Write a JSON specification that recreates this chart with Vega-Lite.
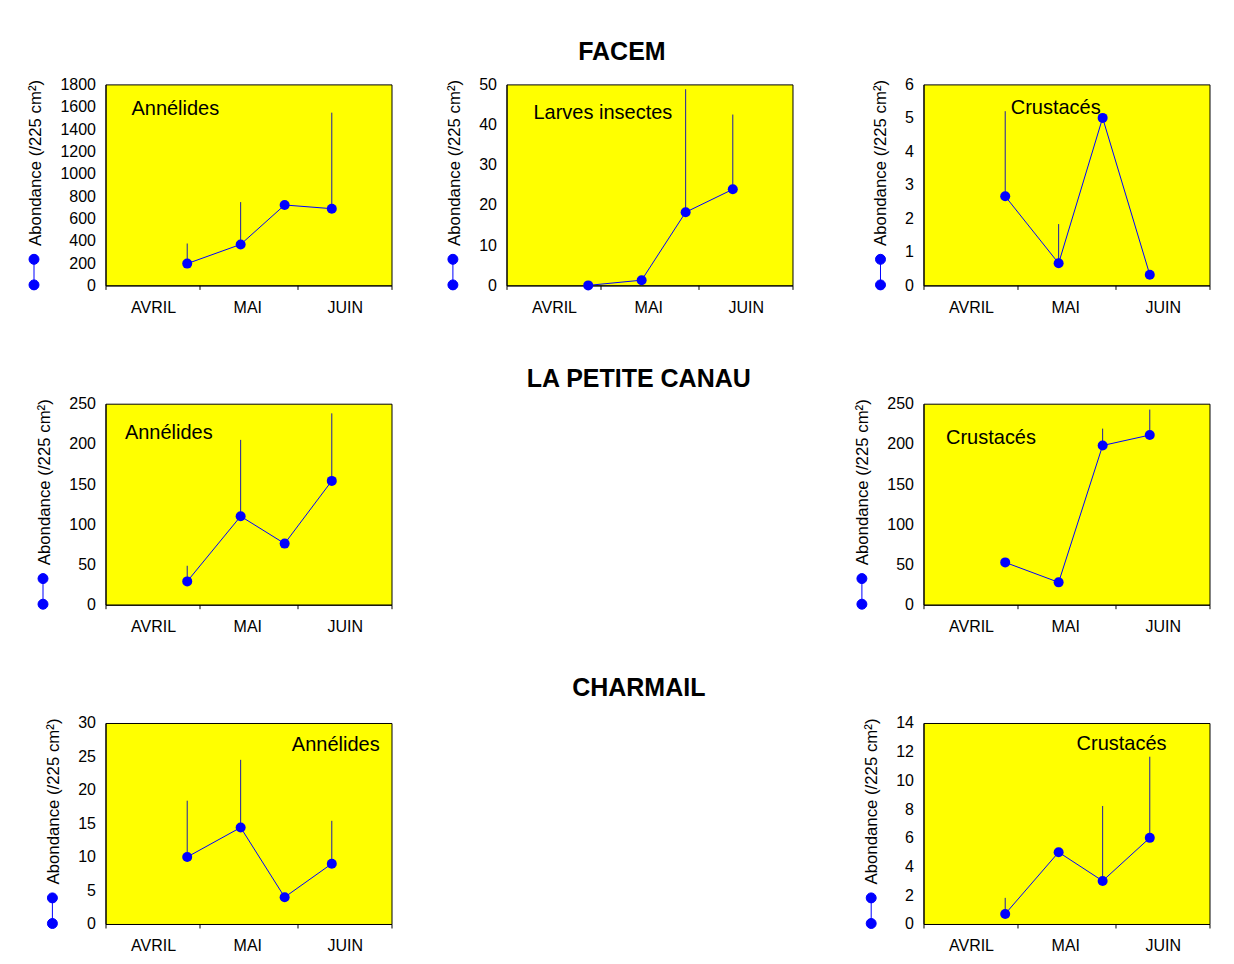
{
  "$schema": "https://vega.github.io/schema/vega-lite/v6.json",
  "padding": {"left": 19.5, "top": 39.4, "right": 5, "bottom": 5},
  "background": "white",
  "config": {
    "font": "Liberation Sans",
    "view": {"fill": "#ffff00", "stroke": "#000000", "strokeWidth": 1},
    "axis": {"labelFont": "Liberation Sans", "labelFontSize": 16, "labelColor": "#000000", "titleFont": "Liberation Sans", "titleFontSize": 16.8, "titleFontWeight": "normal", "titleColor": "#000000", "domainColor": "#000000", "tickColor": "#000000", "grid": false, "labelOverlap": false},
    "axisY": {"ticks": false, "tickSize": 0, "labelPadding": 10, "titleAnchor": "end", "titleY": -5, "titlePadding": 15, "format": "d", "labelOverlap": false},
    "title": {"font": "Liberation Sans", "fontSize": 25, "fontWeight": "bold", "color": "#000000", "baseline": "alphabetic", "frame": "group", "anchor": "middle"}
  },
  "datasets": {
    "facem_ann": [
      {"site": "FACEM", "groupe": "Annélides", "date": "2005/04/27", "abondance": 195, "sup": 375},
      {"site": "FACEM", "groupe": "Annélides", "date": "2005/05/14", "abondance": 367, "sup": 746},
      {"site": "FACEM", "groupe": "Annélides", "date": "2005/05/28", "abondance": 720, "sup": null},
      {"site": "FACEM", "groupe": "Annélides", "date": "2005/06/12", "abondance": 687, "sup": 1547}
    ],
    "facem_lar": [
      {"site": "FACEM", "groupe": "Larves insectes", "date": "2005/04/27", "abondance": 0, "sup": null},
      {"site": "FACEM", "groupe": "Larves insectes", "date": "2005/05/14", "abondance": 1.3, "sup": null},
      {"site": "FACEM", "groupe": "Larves insectes", "date": "2005/05/28", "abondance": 18.2, "sup": 48.8},
      {"site": "FACEM", "groupe": "Larves insectes", "date": "2005/06/12", "abondance": 23.9, "sup": 42.5}
    ],
    "facem_cru": [
      {"site": "FACEM", "groupe": "Crustacés", "date": "2005/04/27", "abondance": 2.66, "sup": 5.2},
      {"site": "FACEM", "groupe": "Crustacés", "date": "2005/05/14", "abondance": 0.66, "sup": 1.83},
      {"site": "FACEM", "groupe": "Crustacés", "date": "2005/05/28", "abondance": 5.0, "sup": null},
      {"site": "FACEM", "groupe": "Crustacés", "date": "2005/06/12", "abondance": 0.32, "sup": null}
    ],
    "lpc_ann": [
      {"site": "LA PETITE CANAU", "groupe": "Annélides", "date": "2005/04/27", "abondance": 29, "sup": 48.4},
      {"site": "LA PETITE CANAU", "groupe": "Annélides", "date": "2005/05/14", "abondance": 110, "sup": 205},
      {"site": "LA PETITE CANAU", "groupe": "Annélides", "date": "2005/05/28", "abondance": 76, "sup": null},
      {"site": "LA PETITE CANAU", "groupe": "Annélides", "date": "2005/06/12", "abondance": 154, "sup": 238}
    ],
    "lpc_cru": [
      {"site": "LA PETITE CANAU", "groupe": "Crustacés", "date": "2005/04/27", "abondance": 52.6, "sup": null},
      {"site": "LA PETITE CANAU", "groupe": "Crustacés", "date": "2005/05/14", "abondance": 27.8, "sup": null},
      {"site": "LA PETITE CANAU", "groupe": "Crustacés", "date": "2005/05/28", "abondance": 198, "sup": 219},
      {"site": "LA PETITE CANAU", "groupe": "Crustacés", "date": "2005/06/12", "abondance": 211, "sup": 242.7}
    ],
    "cha_ann": [
      {"site": "CHARMAIL", "groupe": "Annélides", "date": "2005/04/27", "abondance": 10, "sup": 18.4},
      {"site": "CHARMAIL", "groupe": "Annélides", "date": "2005/05/14", "abondance": 14.4, "sup": 24.5},
      {"site": "CHARMAIL", "groupe": "Annélides", "date": "2005/05/28", "abondance": 4, "sup": null},
      {"site": "CHARMAIL", "groupe": "Annélides", "date": "2005/06/12", "abondance": 9, "sup": 15.4}
    ],
    "cha_cru": [
      {"site": "CHARMAIL", "groupe": "Crustacés", "date": "2005/04/27", "abondance": 0.7, "sup": 1.82},
      {"site": "CHARMAIL", "groupe": "Crustacés", "date": "2005/05/14", "abondance": 5, "sup": null},
      {"site": "CHARMAIL", "groupe": "Crustacés", "date": "2005/05/28", "abondance": 3, "sup": 8.22},
      {"site": "CHARMAIL", "groupe": "Crustacés", "date": "2005/06/12", "abondance": 6, "sup": 11.65}
    ]
  },
  "columns": 3,
  "bounds": "flush",
  "spacing": {"row": 118.3, "column": 115},
  "resolve": {"scale": {"color": "independent"}, "legend": {"color": "independent"}},
  "concat": [
    {
      "width": 286, "height": 201,
      "layer": [
        {
          "data": {"name": "facem_ann"},
          "encoding": {
            "x": {"field": "date", "type": "temporal", "title": null, "scale": {"domain": [{"year": 2005, "month": 4, "date": 1}, {"year": 2005, "month": 7, "date": 1}], "nice": false}, "axis": {"values": [{"year": 2005, "month": 4, "date": 1}, {"year": 2005, "month": 5, "date": 1}, {"year": 2005, "month": 6, "date": 1}, {"year": 2005, "month": 7, "date": 1}], "labelExpr": "month(datum.value)==3?'AVRIL':month(datum.value)==4?'MAI':month(datum.value)==5?'JUIN':''", "labelOffset": 47.5, "labelFlush": false, "labelOverlap": false, "labelBound": false, "tickSize": 4, "labelPadding": 10}},
            "y": {"field": "abondance", "type": "quantitative", "title": "Abondance (/225 cm²)", "scale": {"domain": [0, 1800], "nice": false}, "axis": {"values": [0, 200, 400, 600, 800, 1000, 1200, 1400, 1600, 1800], "labelOverlap": false, "labelBound": false}}
          },
          "layer": [
            {"transform": [{"filter": "isValid(datum.sup)"}], "mark": {"type": "rule", "color": "#1c1ca8", "strokeWidth": 1}, "encoding": {"y2": {"field": "sup"}}},
            {"mark": {"type": "line", "color": "#0000ff", "strokeWidth": 1}, "encoding": {}},
            {"mark": {"type": "point", "filled": true, "size": 100, "opacity": 1}, "encoding": {"color": {"field": "groupe", "type": "nominal", "scale": {"range": ["#0000ff"]}, "legend": {"orient": "none", "legendX": -85, "legendY": 174.2, "title": null, "labelExpr": "''", "padding": 0, "symbolSize": 655, "symbolStrokeColor": "#0000ff", "symbolStrokeWidth": 1, "symbolType": "M-0.39,-1A0.39,0.39,0,1,0,0.39,-1A0.39,0.39,0,1,0,-0.39,-1ZM0,-1L0,1M-0.39,1A0.39,0.39,0,1,0,0.39,1A0.39,0.39,0,1,0,-0.39,1Z"}}}}
          ]
        },
        {"data": {"values": [{"label": "Annélides"}]}, "mark": {"type": "text", "align": "left", "baseline": "middle", "fontSize": 20, "color": "#000000"}, "encoding": {"text": {"field": "label"},
          "x": {"datum": {"year": 2005, "month": 4, "date": 9, "hours": 6}, "type": "temporal", "title": null, "scale": {"domain": [{"year": 2005, "month": 4, "date": 1}, {"year": 2005, "month": 7, "date": 1}], "nice": false}, "axis": {"values": [{"year": 2005, "month": 4, "date": 1}, {"year": 2005, "month": 5, "date": 1}, {"year": 2005, "month": 6, "date": 1}, {"year": 2005, "month": 7, "date": 1}], "labelExpr": "month(datum.value)==3?'AVRIL':month(datum.value)==4?'MAI':month(datum.value)==5?'JUIN':''", "labelOffset": 47.5, "labelFlush": false, "labelOverlap": false, "labelBound": false, "tickSize": 4, "labelPadding": 10}},
          "y": {"datum": 1578, "type": "quantitative", "title": "Abondance (/225 cm²)", "scale": {"domain": [0, 1800], "nice": false}, "axis": {"values": [0, 200, 400, 600, 800, 1000, 1200, 1400, 1600, 1800], "labelOverlap": false, "labelBound": false}}}}
      ]
    },
    {
      "width": 286, "height": 201,
      "title": {"text": "FACEM", "dx": -27.6, "offset": 11},
      "layer": [
        {
          "data": {"name": "facem_lar"},
          "encoding": {
            "x": {"field": "date", "type": "temporal", "title": null, "scale": {"domain": [{"year": 2005, "month": 4, "date": 1}, {"year": 2005, "month": 7, "date": 1}], "nice": false}, "axis": {"values": [{"year": 2005, "month": 4, "date": 1}, {"year": 2005, "month": 5, "date": 1}, {"year": 2005, "month": 6, "date": 1}, {"year": 2005, "month": 7, "date": 1}], "labelExpr": "month(datum.value)==3?'AVRIL':month(datum.value)==4?'MAI':month(datum.value)==5?'JUIN':''", "labelOffset": 47.5, "labelFlush": false, "labelOverlap": false, "labelBound": false, "tickSize": 4, "labelPadding": 10}},
            "y": {"field": "abondance", "type": "quantitative", "title": "Abondance (/225 cm²)", "scale": {"domain": [0, 50], "nice": false}, "axis": {"values": [0, 10, 20, 30, 40, 50], "labelOverlap": false, "labelBound": false}}
          },
          "layer": [
            {"transform": [{"filter": "isValid(datum.sup)"}], "mark": {"type": "rule", "color": "#1c1ca8", "strokeWidth": 1}, "encoding": {"y2": {"field": "sup"}}},
            {"mark": {"type": "line", "color": "#0000ff", "strokeWidth": 1}, "encoding": {}},
            {"mark": {"type": "point", "filled": true, "size": 100, "opacity": 1}, "encoding": {"color": {"field": "groupe", "type": "nominal", "scale": {"range": ["#0000ff"]}, "legend": {"orient": "none", "legendX": -67.1, "legendY": 174.2, "title": null, "labelExpr": "''", "padding": 0, "symbolSize": 655, "symbolStrokeColor": "#0000ff", "symbolStrokeWidth": 1, "symbolType": "M-0.39,-1A0.39,0.39,0,1,0,0.39,-1A0.39,0.39,0,1,0,-0.39,-1ZM0,-1L0,1M-0.39,1A0.39,0.39,0,1,0,0.39,1A0.39,0.39,0,1,0,-0.39,1Z"}}}}
          ]
        },
        {"data": {"values": [{"label": "Larves insectes"}]}, "mark": {"type": "text", "align": "left", "baseline": "middle", "fontSize": 20, "color": "#000000"}, "encoding": {"text": {"field": "label"},
          "x": {"datum": {"year": 2005, "month": 4, "date": 9, "hours": 14}, "type": "temporal", "title": null, "scale": {"domain": [{"year": 2005, "month": 4, "date": 1}, {"year": 2005, "month": 7, "date": 1}], "nice": false}, "axis": {"values": [{"year": 2005, "month": 4, "date": 1}, {"year": 2005, "month": 5, "date": 1}, {"year": 2005, "month": 6, "date": 1}, {"year": 2005, "month": 7, "date": 1}], "labelExpr": "month(datum.value)==3?'AVRIL':month(datum.value)==4?'MAI':month(datum.value)==5?'JUIN':''", "labelOffset": 47.5, "labelFlush": false, "labelOverlap": false, "labelBound": false, "tickSize": 4, "labelPadding": 10}},
          "y": {"datum": 42.9, "type": "quantitative", "title": "Abondance (/225 cm²)", "scale": {"domain": [0, 50], "nice": false}, "axis": {"values": [0, 10, 20, 30, 40, 50], "labelOverlap": false, "labelBound": false}}}}
      ]
    },
    {
      "width": 286, "height": 201,
      "layer": [
        {
          "data": {"name": "facem_cru"},
          "encoding": {
            "x": {"field": "date", "type": "temporal", "title": null, "scale": {"domain": [{"year": 2005, "month": 4, "date": 1}, {"year": 2005, "month": 7, "date": 1}], "nice": false}, "axis": {"values": [{"year": 2005, "month": 4, "date": 1}, {"year": 2005, "month": 5, "date": 1}, {"year": 2005, "month": 6, "date": 1}, {"year": 2005, "month": 7, "date": 1}], "labelExpr": "month(datum.value)==3?'AVRIL':month(datum.value)==4?'MAI':month(datum.value)==5?'JUIN':''", "labelOffset": 47.5, "labelFlush": false, "labelOverlap": false, "labelBound": false, "tickSize": 4, "labelPadding": 10}},
            "y": {"field": "abondance", "type": "quantitative", "title": "Abondance (/225 cm²)", "scale": {"domain": [0, 6], "nice": false}, "axis": {"values": [0, 1, 2, 3, 4, 5, 6], "labelOverlap": false, "labelBound": false}}
          },
          "layer": [
            {"transform": [{"filter": "isValid(datum.sup)"}], "mark": {"type": "rule", "color": "#1c1ca8", "strokeWidth": 1}, "encoding": {"y2": {"field": "sup"}}},
            {"mark": {"type": "line", "color": "#0000ff", "strokeWidth": 1}, "encoding": {}},
            {"mark": {"type": "point", "filled": true, "size": 100, "opacity": 1}, "encoding": {"color": {"field": "groupe", "type": "nominal", "scale": {"range": ["#0000ff"]}, "legend": {"orient": "none", "legendX": -56.5, "legendY": 174.2, "title": null, "labelExpr": "''", "padding": 0, "symbolSize": 655, "symbolStrokeColor": "#0000ff", "symbolStrokeWidth": 1, "symbolType": "M-0.39,-1A0.39,0.39,0,1,0,0.39,-1A0.39,0.39,0,1,0,-0.39,-1ZM0,-1L0,1M-0.39,1A0.39,0.39,0,1,0,0.39,1A0.39,0.39,0,1,0,-0.39,1Z"}}}}
          ]
        },
        {"data": {"values": [{"label": "Crustacés"}]}, "mark": {"type": "text", "align": "left", "baseline": "middle", "fontSize": 20, "color": "#000000"}, "encoding": {"text": {"field": "label"},
          "x": {"datum": {"year": 2005, "month": 4, "date": 28, "hours": 18}, "type": "temporal", "title": null, "scale": {"domain": [{"year": 2005, "month": 4, "date": 1}, {"year": 2005, "month": 7, "date": 1}], "nice": false}, "axis": {"values": [{"year": 2005, "month": 4, "date": 1}, {"year": 2005, "month": 5, "date": 1}, {"year": 2005, "month": 6, "date": 1}, {"year": 2005, "month": 7, "date": 1}], "labelExpr": "month(datum.value)==3?'AVRIL':month(datum.value)==4?'MAI':month(datum.value)==5?'JUIN':''", "labelOffset": 47.5, "labelFlush": false, "labelOverlap": false, "labelBound": false, "tickSize": 4, "labelPadding": 10}},
          "y": {"datum": 5.3, "type": "quantitative", "title": "Abondance (/225 cm²)", "scale": {"domain": [0, 6], "nice": false}, "axis": {"values": [0, 1, 2, 3, 4, 5, 6], "labelOverlap": false, "labelBound": false}}}}
      ]
    },
    {
      "width": 286, "height": 201,
      "layer": [
        {
          "data": {"name": "lpc_ann"},
          "encoding": {
            "x": {"field": "date", "type": "temporal", "title": null, "scale": {"domain": [{"year": 2005, "month": 4, "date": 1}, {"year": 2005, "month": 7, "date": 1}], "nice": false}, "axis": {"values": [{"year": 2005, "month": 4, "date": 1}, {"year": 2005, "month": 5, "date": 1}, {"year": 2005, "month": 6, "date": 1}, {"year": 2005, "month": 7, "date": 1}], "labelExpr": "month(datum.value)==3?'AVRIL':month(datum.value)==4?'MAI':month(datum.value)==5?'JUIN':''", "labelOffset": 47.5, "labelFlush": false, "labelOverlap": false, "labelBound": false, "tickSize": 4, "labelPadding": 10}},
            "y": {"field": "abondance", "type": "quantitative", "title": "Abondance (/225 cm²)", "scale": {"domain": [0, 250], "nice": false}, "axis": {"values": [0, 50, 100, 150, 200, 250], "labelOverlap": false, "labelBound": false}}
          },
          "layer": [
            {"transform": [{"filter": "isValid(datum.sup)"}], "mark": {"type": "rule", "color": "#1c1ca8", "strokeWidth": 1}, "encoding": {"y2": {"field": "sup"}}},
            {"mark": {"type": "line", "color": "#0000ff", "strokeWidth": 1}, "encoding": {}},
            {"mark": {"type": "point", "filled": true, "size": 100, "opacity": 1}, "encoding": {"color": {"field": "groupe", "type": "nominal", "scale": {"range": ["#0000ff"]}, "legend": {"orient": "none", "legendX": -76, "legendY": 174.2, "title": null, "labelExpr": "''", "padding": 0, "symbolSize": 655, "symbolStrokeColor": "#0000ff", "symbolStrokeWidth": 1, "symbolType": "M-0.39,-1A0.39,0.39,0,1,0,0.39,-1A0.39,0.39,0,1,0,-0.39,-1ZM0,-1L0,1M-0.39,1A0.39,0.39,0,1,0,0.39,1A0.39,0.39,0,1,0,-0.39,1Z"}}}}
          ]
        },
        {"data": {"values": [{"label": "Annélides"}]}, "mark": {"type": "text", "align": "left", "baseline": "middle", "fontSize": 20, "color": "#000000"}, "encoding": {"text": {"field": "label"},
          "x": {"datum": {"year": 2005, "month": 4, "date": 7, "hours": 4}, "type": "temporal", "title": null, "scale": {"domain": [{"year": 2005, "month": 4, "date": 1}, {"year": 2005, "month": 7, "date": 1}], "nice": false}, "axis": {"values": [{"year": 2005, "month": 4, "date": 1}, {"year": 2005, "month": 5, "date": 1}, {"year": 2005, "month": 6, "date": 1}, {"year": 2005, "month": 7, "date": 1}], "labelExpr": "month(datum.value)==3?'AVRIL':month(datum.value)==4?'MAI':month(datum.value)==5?'JUIN':''", "labelOffset": 47.5, "labelFlush": false, "labelOverlap": false, "labelBound": false, "tickSize": 4, "labelPadding": 10}},
          "y": {"datum": 213, "type": "quantitative", "title": "Abondance (/225 cm²)", "scale": {"domain": [0, 250], "nice": false}, "axis": {"values": [0, 50, 100, 150, 200, 250], "labelOverlap": false, "labelBound": false}}}}
      ]
    },
    {
      "width": 302, "height": 201,
      "title": {"text": "LA PETITE CANAU", "dx": -18.7, "offset": 12},
      "view": {"fill": null, "stroke": null},
      "data": {"values": []},
      "mark": "point"
    },
    {
      "width": 286, "height": 201,
      "layer": [
        {
          "data": {"name": "lpc_cru"},
          "encoding": {
            "x": {"field": "date", "type": "temporal", "title": null, "scale": {"domain": [{"year": 2005, "month": 4, "date": 1}, {"year": 2005, "month": 7, "date": 1}], "nice": false}, "axis": {"values": [{"year": 2005, "month": 4, "date": 1}, {"year": 2005, "month": 5, "date": 1}, {"year": 2005, "month": 6, "date": 1}, {"year": 2005, "month": 7, "date": 1}], "labelExpr": "month(datum.value)==3?'AVRIL':month(datum.value)==4?'MAI':month(datum.value)==5?'JUIN':''", "labelOffset": 47.5, "labelFlush": false, "labelOverlap": false, "labelBound": false, "tickSize": 4, "labelPadding": 10}},
            "y": {"field": "abondance", "type": "quantitative", "title": "Abondance (/225 cm²)", "scale": {"domain": [0, 250], "nice": false}, "axis": {"values": [0, 50, 100, 150, 200, 250], "labelOverlap": false, "labelBound": false}}
          },
          "layer": [
            {"transform": [{"filter": "isValid(datum.sup)"}], "mark": {"type": "rule", "color": "#1c1ca8", "strokeWidth": 1}, "encoding": {"y2": {"field": "sup"}}},
            {"mark": {"type": "line", "color": "#0000ff", "strokeWidth": 1}, "encoding": {}},
            {"mark": {"type": "point", "filled": true, "size": 100, "opacity": 1}, "encoding": {"color": {"field": "groupe", "type": "nominal", "scale": {"range": ["#0000ff"]}, "legend": {"orient": "none", "legendX": -75.1, "legendY": 174.2, "title": null, "labelExpr": "''", "padding": 0, "symbolSize": 655, "symbolStrokeColor": "#0000ff", "symbolStrokeWidth": 1, "symbolType": "M-0.39,-1A0.39,0.39,0,1,0,0.39,-1A0.39,0.39,0,1,0,-0.39,-1ZM0,-1L0,1M-0.39,1A0.39,0.39,0,1,0,0.39,1A0.39,0.39,0,1,0,-0.39,1Z"}}}}
          ]
        },
        {"data": {"values": [{"label": "Crustacés"}]}, "mark": {"type": "text", "align": "left", "baseline": "middle", "fontSize": 20, "color": "#000000"}, "encoding": {"text": {"field": "label"},
          "x": {"datum": {"year": 2005, "month": 4, "date": 8, "hours": 4}, "type": "temporal", "title": null, "scale": {"domain": [{"year": 2005, "month": 4, "date": 1}, {"year": 2005, "month": 7, "date": 1}], "nice": false}, "axis": {"values": [{"year": 2005, "month": 4, "date": 1}, {"year": 2005, "month": 5, "date": 1}, {"year": 2005, "month": 6, "date": 1}, {"year": 2005, "month": 7, "date": 1}], "labelExpr": "month(datum.value)==3?'AVRIL':month(datum.value)==4?'MAI':month(datum.value)==5?'JUIN':''", "labelOffset": 47.5, "labelFlush": false, "labelOverlap": false, "labelBound": false, "tickSize": 4, "labelPadding": 10}},
          "y": {"datum": 207.8, "type": "quantitative", "title": "Abondance (/225 cm²)", "scale": {"domain": [0, 250], "nice": false}, "axis": {"values": [0, 50, 100, 150, 200, 250], "labelOverlap": false, "labelBound": false}}}}
      ]
    },
    {
      "width": 286, "height": 201,
      "layer": [
        {
          "data": {"name": "cha_ann"},
          "encoding": {
            "x": {"field": "date", "type": "temporal", "title": null, "scale": {"domain": [{"year": 2005, "month": 4, "date": 1}, {"year": 2005, "month": 7, "date": 1}], "nice": false}, "axis": {"values": [{"year": 2005, "month": 4, "date": 1}, {"year": 2005, "month": 5, "date": 1}, {"year": 2005, "month": 6, "date": 1}, {"year": 2005, "month": 7, "date": 1}], "labelExpr": "month(datum.value)==3?'AVRIL':month(datum.value)==4?'MAI':month(datum.value)==5?'JUIN':''", "labelOffset": 47.5, "labelFlush": false, "labelOverlap": false, "labelBound": false, "tickSize": 4, "labelPadding": 10}},
            "y": {"field": "abondance", "type": "quantitative", "title": "Abondance (/225 cm²)", "scale": {"domain": [0, 30], "nice": false}, "axis": {"values": [0, 5, 10, 15, 20, 25, 30], "labelOverlap": false, "labelBound": false}}
          },
          "layer": [
            {"transform": [{"filter": "isValid(datum.sup)"}], "mark": {"type": "rule", "color": "#1c1ca8", "strokeWidth": 1}, "encoding": {"y2": {"field": "sup"}}},
            {"mark": {"type": "line", "color": "#0000ff", "strokeWidth": 1}, "encoding": {}},
            {"mark": {"type": "point", "filled": true, "size": 100, "opacity": 1}, "encoding": {"color": {"field": "groupe", "type": "nominal", "scale": {"range": ["#0000ff"]}, "legend": {"orient": "none", "legendX": -66.6, "legendY": 174.2, "title": null, "labelExpr": "''", "padding": 0, "symbolSize": 655, "symbolStrokeColor": "#0000ff", "symbolStrokeWidth": 1, "symbolType": "M-0.39,-1A0.39,0.39,0,1,0,0.39,-1A0.39,0.39,0,1,0,-0.39,-1ZM0,-1L0,1M-0.39,1A0.39,0.39,0,1,0,0.39,1A0.39,0.39,0,1,0,-0.39,1Z"}}}}
          ]
        },
        {"data": {"values": [{"label": "Annélides"}]}, "mark": {"type": "text", "align": "left", "baseline": "middle", "fontSize": 20, "color": "#000000"}, "encoding": {"text": {"field": "label"},
          "x": {"datum": {"year": 2005, "month": 5, "date": 30, "hours": 7}, "type": "temporal", "title": null, "scale": {"domain": [{"year": 2005, "month": 4, "date": 1}, {"year": 2005, "month": 7, "date": 1}], "nice": false}, "axis": {"values": [{"year": 2005, "month": 4, "date": 1}, {"year": 2005, "month": 5, "date": 1}, {"year": 2005, "month": 6, "date": 1}, {"year": 2005, "month": 7, "date": 1}], "labelExpr": "month(datum.value)==3?'AVRIL':month(datum.value)==4?'MAI':month(datum.value)==5?'JUIN':''", "labelOffset": 47.5, "labelFlush": false, "labelOverlap": false, "labelBound": false, "tickSize": 4, "labelPadding": 10}},
          "y": {"datum": 26.75, "type": "quantitative", "title": "Abondance (/225 cm²)", "scale": {"domain": [0, 30], "nice": false}, "axis": {"values": [0, 5, 10, 15, 20, 25, 30], "labelOverlap": false, "labelBound": false}}}}
      ]
    },
    {
      "width": 302, "height": 201,
      "title": {"text": "CHARMAIL", "dx": -18.7, "offset": 22},
      "view": {"fill": null, "stroke": null},
      "data": {"values": []},
      "mark": "point"
    },
    {
      "width": 286, "height": 201,
      "layer": [
        {
          "data": {"name": "cha_cru"},
          "encoding": {
            "x": {"field": "date", "type": "temporal", "title": null, "scale": {"domain": [{"year": 2005, "month": 4, "date": 1}, {"year": 2005, "month": 7, "date": 1}], "nice": false}, "axis": {"values": [{"year": 2005, "month": 4, "date": 1}, {"year": 2005, "month": 5, "date": 1}, {"year": 2005, "month": 6, "date": 1}, {"year": 2005, "month": 7, "date": 1}], "labelExpr": "month(datum.value)==3?'AVRIL':month(datum.value)==4?'MAI':month(datum.value)==5?'JUIN':''", "labelOffset": 47.5, "labelFlush": false, "labelOverlap": false, "labelBound": false, "tickSize": 4, "labelPadding": 10}},
            "y": {"field": "abondance", "type": "quantitative", "title": "Abondance (/225 cm²)", "scale": {"domain": [0, 14], "nice": false}, "axis": {"values": [0, 2, 4, 6, 8, 10, 12, 14], "labelOverlap": false, "labelBound": false}}
          },
          "layer": [
            {"transform": [{"filter": "isValid(datum.sup)"}], "mark": {"type": "rule", "color": "#1c1ca8", "strokeWidth": 1}, "encoding": {"y2": {"field": "sup"}}},
            {"mark": {"type": "line", "color": "#0000ff", "strokeWidth": 1}, "encoding": {}},
            {"mark": {"type": "point", "filled": true, "size": 100, "opacity": 1}, "encoding": {"color": {"field": "groupe", "type": "nominal", "scale": {"range": ["#0000ff"]}, "legend": {"orient": "none", "legendX": -65.8, "legendY": 174.2, "title": null, "labelExpr": "''", "padding": 0, "symbolSize": 655, "symbolStrokeColor": "#0000ff", "symbolStrokeWidth": 1, "symbolType": "M-0.39,-1A0.39,0.39,0,1,0,0.39,-1A0.39,0.39,0,1,0,-0.39,-1ZM0,-1L0,1M-0.39,1A0.39,0.39,0,1,0,0.39,1A0.39,0.39,0,1,0,-0.39,1Z"}}}}
          ]
        },
        {"data": {"values": [{"label": "Crustacés"}]}, "mark": {"type": "text", "align": "left", "baseline": "middle", "fontSize": 20, "color": "#000000"}, "encoding": {"text": {"field": "label"},
          "x": {"datum": {"year": 2005, "month": 5, "date": 19, "hours": 17}, "type": "temporal", "title": null, "scale": {"domain": [{"year": 2005, "month": 4, "date": 1}, {"year": 2005, "month": 7, "date": 1}], "nice": false}, "axis": {"values": [{"year": 2005, "month": 4, "date": 1}, {"year": 2005, "month": 5, "date": 1}, {"year": 2005, "month": 6, "date": 1}, {"year": 2005, "month": 7, "date": 1}], "labelExpr": "month(datum.value)==3?'AVRIL':month(datum.value)==4?'MAI':month(datum.value)==5?'JUIN':''", "labelOffset": 47.5, "labelFlush": false, "labelOverlap": false, "labelBound": false, "tickSize": 4, "labelPadding": 10}},
          "y": {"datum": 12.53, "type": "quantitative", "title": "Abondance (/225 cm²)", "scale": {"domain": [0, 14], "nice": false}, "axis": {"values": [0, 2, 4, 6, 8, 10, 12, 14], "labelOverlap": false, "labelBound": false}}}}
      ]
    }
  ]
}
